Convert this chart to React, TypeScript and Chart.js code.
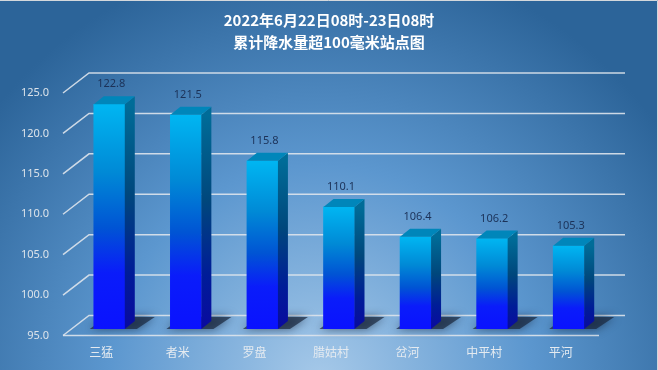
import { useEffect, useRef } from 'react';
import { Chart, registerables } from 'chart.js';

Chart.register(...registerables);

const categories = ['三猛', '者米', '罗盘', '腊姑村', '岔河', '中平村', '平河'];
const rainfall = [122.8, 121.5, 115.8, 110.1, 106.4, 106.2, 105.3];
const yTicks = [95, 100, 105, 110, 115, 120, 125];
const titleLines = ['2022年6月22日08时-23日08时', '累计降水量超100毫米站点图'];

// depth offsets relative to the bar-front plane
const FRONT = { dx: -8, dy: 6.5 };
const BACK = { dx: 18, dy: -13.5 };
const BAR_D = { dx: 10, dy: -8 };
const GRID_COLOR = 'rgba(222,228,236,0.9)';

const pseudo3d = {
  id: 'pseudo3d',
  beforeDraw(chart: any) {
    const { ctx, width, height } = chart;
    ctx.save();
    const cx = 320, cy = 380, rx = 420, ry = 430;
    ctx.translate(cx, cy);
    ctx.scale(rx / ry, 1);
    const g = ctx.createRadialGradient(0, 0, 0, 0, 0, ry);
    g.addColorStop(0, '#a6c9e9');
    g.addColorStop(0.5, '#5c97cf');
    g.addColorStop(1, '#2c6499');
    ctx.fillStyle = g;
    ctx.fillRect(-2000, -2000, 4000, 4000);
    ctx.restore();
    ctx.save();
    ctx.strokeStyle = '#d4d8dc';
    ctx.lineWidth = 1;
    ctx.beginPath();
    ctx.moveTo(0, 0.5);
    ctx.lineTo(width - 0.5, 0.5);
    ctx.lineTo(width - 0.5, height);
    ctx.stroke();
    ctx.restore();
  },
  beforeDatasetsDraw(chart: any) {
    const { ctx, chartArea } = chart;
    const ys = chart.scales.y;
    ctx.save();
    ctx.strokeStyle = GRID_COLOR;
    ctx.lineWidth = 1.5;
    ys.ticks.forEach((t: any) => {
      const y = ys.getPixelForValue(t.value);
      ctx.beginPath();
      ctx.moveTo(chartArea.left + FRONT.dx, y + FRONT.dy);
      ctx.lineTo(chartArea.left + BACK.dx, y + BACK.dy);
      ctx.lineTo(chartArea.right + BACK.dx, y + BACK.dy);
      ctx.stroke();
    });
    const yb = ys.getPixelForValue(ys.min);
    ctx.beginPath();
    ctx.moveTo(chartArea.left + FRONT.dx, yb + FRONT.dy);
    ctx.lineTo(chartArea.right + FRONT.dx, yb + FRONT.dy);
    ctx.stroke();

    // floor shadows
    const meta = chart.getDatasetMeta(0);
    meta.data.forEach((bar: any) => {
      const { x, width } = bar.getProps(['x', 'width'], true);
      const base = yb;
      const xl = x - width / 2, xr = x + width / 2;
      ctx.save();
      ctx.shadowColor = 'rgba(15,25,45,0.85)';
      ctx.shadowBlur = 10;
      ctx.fillStyle = 'rgba(25,38,60,0.7)';
      ctx.beginPath();
      ctx.moveTo(xl - 4, base);
      ctx.lineTo(xr + 12, base);
      ctx.lineTo(xr + 30, base - 12);
      ctx.lineTo(xl + 12, base - 12);
      ctx.closePath();
      ctx.fill();
      ctx.restore();
    });
    ctx.restore();
  },
  afterDatasetsDraw(chart: any) {
    const { ctx } = chart;
    const ys = chart.scales.y;
    const base = ys.getPixelForValue(ys.min);
    const meta = chart.getDatasetMeta(0);
    ctx.save();
    meta.data.forEach((bar: any, i: number) => {
      const { x, y, width } = bar.getProps(['x', 'y', 'width'], true);
      const xl = x - width / 2, xr = x + width / 2;
      // side face
      const sg = ctx.createLinearGradient(0, y, 0, base);
      sg.addColorStop(0, '#006c98');
      sg.addColorStop(0.4, '#00477c');
      sg.addColorStop(0.75, '#001c98');
      sg.addColorStop(1, '#0a0aa0');
      ctx.fillStyle = sg;
      ctx.beginPath();
      ctx.moveTo(xr, y);
      ctx.lineTo(xr + BAR_D.dx, y + BAR_D.dy);
      ctx.lineTo(xr + BAR_D.dx, base + BAR_D.dy);
      ctx.lineTo(xr, base);
      ctx.closePath();
      ctx.fill();
      // top face
      ctx.fillStyle = '#0086ba';
      ctx.beginPath();
      ctx.moveTo(xl, y);
      ctx.lineTo(xl + BAR_D.dx, y + BAR_D.dy);
      ctx.lineTo(xr + BAR_D.dx, y + BAR_D.dy);
      ctx.lineTo(xr, y);
      ctx.closePath();
      ctx.fill();
      // value label
      ctx.fillStyle = '#1c3258';
      ctx.font = '11px "Noto Sans", sans-serif';
      ctx.textAlign = 'center';
      ctx.textBaseline = 'middle';
      ctx.fillText(rainfall[i].toFixed(1), x + 2, y - 20);
    });
    ctx.restore();
  },
};

export default function App() {
  const ref = useRef<HTMLCanvasElement | null>(null);
  useEffect(() => {
    document.body.style.margin = '0';
    if (!ref.current) return;
    const chart = new Chart(ref.current, {
      type: 'bar',
      data: {
        labels: categories,
        datasets: [
          {
            data: rainfall,
            barThickness: 31,
            borderWidth: 0,
            backgroundColor: (c: any) => {
              const ch = c.chart;
              const ys = ch.scales && ch.scales.y;
              if (!ch.chartArea || !ys || c.type !== 'data' || !c.parsed) return '#0060e0';
              const top = ys.getPixelForValue(c.parsed.y);
              const bot = ys.getPixelForValue(ys.min);
              const g = ch.ctx.createLinearGradient(0, top, 0, bot);
              g.addColorStop(0, '#00b6f2');
              g.addColorStop(0.3, '#008ad6');
              g.addColorStop(0.55, '#0054d4');
              g.addColorStop(0.75, '#0a1cfa');
              g.addColorStop(1, '#0a12ff');
              return g;
            },
          },
        ],
      },
      options: {
        responsive: false,
        animation: false,
        layout: { padding: 0 },
        plugins: {
          legend: { display: false },
          tooltip: { enabled: false },
          title: {
            display: true,
            text: titleLines,
            color: '#ffffff',
            font: { size: 15, weight: 'bold', family: '"Noto Sans CJK SC", sans-serif', lineHeight: 22 / 15 },
            padding: { top: 9, bottom: 33.5 },
          },
        },
        scales: {
          x: {
            grid: { display: false, drawTicks: false },
            border: { display: false },
            ticks: {
              color: '#e4eaf0',
              font: { size: 12, family: '"Noto Sans CJK SC", sans-serif' },
              padding: 16,
              labelOffset: FRONT.dx,
              autoSkip: false,
              maxRotation: 0,
            },
            afterFit: (s: any) => {
              s.height = 41;
            },
          },
          y: {
            min: 95,
            max: 125,
            grid: { display: false, drawTicks: false },
            border: { display: false },
            afterBuildTicks: (s: any) => {
              s.ticks = yTicks.map((v) => ({ value: v }));
            },
            ticks: {
              color: '#dce3ea',
              font: { size: 11, family: '"Noto Sans", sans-serif' },
              padding: 22,
              labelOffset: FRONT.dy,
              callback: (v: any) => Number(v).toFixed(1),
            },
            afterFit: (s: any) => {
              s.width = 71;
            },
          },
          yRight: {
            position: 'right',
            display: true,
            grid: { display: false, drawTicks: false },
            border: { display: false },
            ticks: { display: false },
            afterFit: (s: any) => {
              s.width = 51;
            },
          },
        },
      },
      plugins: [pseudo3d],
    });
    return () => chart.destroy();
  }, []);
  return (
    <div style={{ width: 658, height: 370, position: 'relative' }}>
      <canvas ref={ref} width={658} height={370} style={{ display: 'block' }} />
    </div>
  );
}
